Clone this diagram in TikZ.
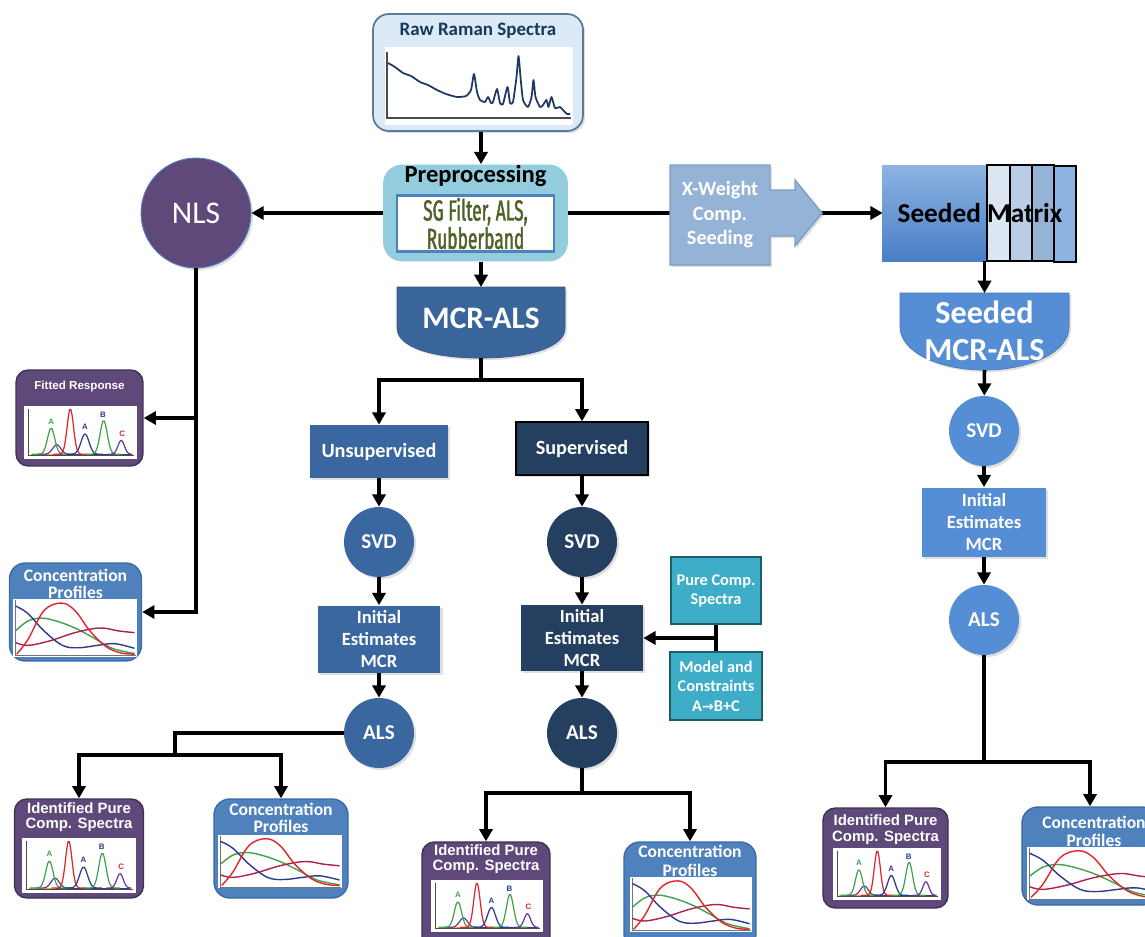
\documentclass[tikz,border=0pt]{standalone}
\usepackage{fontspec}
\setmainfont{Carlito}
\newfontfamily\arialf{Liberation Sans}
\newfontfamily\djv{DejaVu Sans}
\newfontfamily\condf[FakeStretch=0.6,FakeBold=1.5]{Fira Sans}
\usetikzlibrary{arrows.meta,shadows,calc}
\definecolor{rawfill}{HTML}{DCE9F7}
\definecolor{rawborder}{HTML}{5B7A99}
\definecolor{navy}{HTML}{17375E}
\definecolor{rawline}{HTML}{1F3864}
\definecolor{prepfill}{HTML}{93CDDD}
\definecolor{boxblue}{HTML}{4F81BD}
\definecolor{sgtext}{HTML}{4F6228}
\definecolor{purp}{HTML}{5F497A}
\definecolor{purpborder}{HTML}{3F3151}
\definecolor{xwfill}{HTML}{95B3D7}
\definecolor{xwborder}{HTML}{7F9FC9}
\definecolor{smtop}{HTML}{8DB4E2}
\definecolor{smbot}{HTML}{4A7EC6}
\definecolor{stripa}{HTML}{DCE6F2}
\definecolor{stripb}{HTML}{B9CDE5}
\definecolor{stripc}{HTML}{95B3D7}
\definecolor{stripd}{HTML}{8DB3E2}
\definecolor{smcrblue}{HTML}{558ED5}
\definecolor{mcrblue}{HTML}{3A659B}
\definecolor{unsblue}{HTML}{3B67A0}
\definecolor{supnavy}{HTML}{243F60}
\definecolor{tealf}{HTML}{3EADC8}
\definecolor{tealborder}{HTML}{1F5C6B}
\definecolor{concblue}{HTML}{4F81BD}
\definecolor{concborder}{HTML}{3B6AA6}
\definecolor{pgreen}{HTML}{3FA34D}
\definecolor{pred}{HTML}{E0262B}
\definecolor{pblue}{HTML}{2E3A8C}
\definecolor{ppurple}{HTML}{6A3A9A}
\definecolor{porange}{HTML}{F0A030}
\definecolor{cmaroon}{HTML}{B0204A}
\newcommand\fsz[2]{\fontsize{#1}{#2}\selectfont}
\newcommand\pureplot[4]{%
 \fill[white] (#1,#2) rectangle (#3,#4);
 \begin{scope}[shift={(#1,#4)},x={({(#3-#1)*0.02cm},0cm)},y={(0cm,{(#4-#2)*0.02cm})}]
  \draw[black!70, line width=0.5pt] (0.04,0.95) -- (0.04,0.06) -- (0.97,0.06);
  \draw[porange, line width=0.6pt] (0.06,0.09) -- (0.3,0.09);
  \draw[pblue, line width=0.5pt] (0.3,0.09) -- (0.95,0.09);
  \draw[ppurple, line width=0.7pt] plot[domain=0.12:0.45,samples=30,smooth] (\x,{0.09+0.18*exp(-(\x-0.29)*(\x-0.29)/0.0025)});
  \draw[pgreen, line width=0.7pt] plot[domain=0.07:0.41,samples=30,smooth] (\x,{0.09+0.49*exp(-(\x-0.24)*(\x-0.24)/0.002025)});
  \draw[pred, line width=0.7pt] plot[domain=0.26:0.56,samples=30,smooth] (\x,{0.09+0.85*exp(-(\x-0.41)*(\x-0.41)/0.0016)});
  \draw[pblue, line width=0.7pt] plot[domain=0.38:0.70,samples=30,smooth] (\x,{0.09+0.38*exp(-(\x-0.54)*(\x-0.54)/0.0025)});
  \draw[pgreen, line width=0.7pt] plot[domain=0.55:0.86,samples=30,smooth] (\x,{0.09+0.63*exp(-(\x-0.705)*(\x-0.705)/0.002025)});
  \draw[ppurple, line width=0.7pt] plot[domain=0.74:0.96,samples=30,smooth] (\x,{0.09+0.26*exp(-(\x-0.86)*(\x-0.86)/0.0016)});
  \node[font=\arialf\bfseries\fsz{4.5}{5}, text=pgreen, inner sep=0pt] at (0.24,0.71) {A};
  \node[font=\arialf\bfseries\fsz{4.5}{5}, text=pblue, inner sep=0pt] at (0.54,0.6) {A};
  \node[font=\arialf\bfseries\fsz{4.5}{5}, text=pblue, inner sep=0pt] at (0.70,0.84) {B};
  \node[font=\arialf\bfseries\fsz{4.5}{5}, text=pred, inner sep=0pt] at (0.87,0.48) {C};
 \end{scope}}
\newcommand\concplot[4]{%
 \fill[white] (#1,#2) rectangle (#3,#4);
 \begin{scope}[shift={(#1,#4)},x={({(#3-#1)*0.02cm},0cm)},y={(0cm,{(#4-#2)*0.02cm})}]
  \draw[black!55, line width=0.5pt] (0.02,0.98) -- (0.02,0.02) -- (0.99,0.02);
  \draw[pgreen, line width=0.8pt] plot[smooth, tension=0.6] coordinates {(0.02,0.45) (0.12,0.62) (0.23,0.67) (0.35,0.62) (0.5,0.5) (0.65,0.33) (0.8,0.15) (0.98,0.06)};
  \draw[cmaroon, line width=0.8pt] plot[smooth, tension=0.6] coordinates {(0.02,0.25) (0.12,0.2) (0.3,0.28) (0.5,0.42) (0.7,0.5) (0.85,0.45) (0.98,0.42)};
  \draw[pblue, line width=0.8pt] plot[smooth, tension=0.6] coordinates {(0.02,0.88) (0.12,0.75) (0.25,0.45) (0.4,0.2) (0.53,0.16) (0.68,0.2) (0.82,0.23) (0.98,0.15)};
  \draw[pred, line width=0.8pt] plot[smooth, tension=0.6] coordinates {(0.03,0.05) (0.12,0.3) (0.25,0.8) (0.39,0.93) (0.5,0.8) (0.62,0.45) (0.75,0.18) (0.87,0.07) (0.98,0.05)};
 \end{scope}}
\begin{document}
\begin{tikzpicture}[x=0.02cm, y=-0.02cm,
  arr/.style={line width=2pt, -{Triangle[length=7pt,width=7.5pt]}},
  ln/.style={line width=2pt},
  shd/.style={drop shadow={shadow xshift=1.2pt,shadow yshift=-1.2pt,opacity=0.25}},
  rbox/.style={rectangle, text=white, align=center, inner sep=0pt},
  circ/.style={circle, text=white, minimum size=1.4cm, inner sep=0pt, font=\bfseries\fsz{12}{14}},
  ttl/.style={text=white, align=center, inner sep=0pt},
  ibox/.style={rounded corners=7pt, fill=purp, draw=purpborder, line width=0.8pt, inner sep=0pt},
  cbox/.style={rounded corners=9pt, fill=concblue, draw=concborder, line width=0.8pt, inner sep=0pt}]
\useasboundingbox (0,0) rectangle (1145,936);
\fill[white] (0,0) rectangle (1145,936);
\clip (0,0) rectangle (1145,936);

% Raw Raman spectra
\node[draw=rawborder, fill=rawfill, rounded corners=9pt, line width=1pt, minimum width=4.2cm, minimum height=2.34cm, inner sep=0pt, shd] (raw) at (478,72.5) {};
\node[font=\bfseries\fsz{10.8}{12}, text=navy, inner sep=0pt] (rawt) at (478,31) {Raw Raman Spectra};
\fill[white] (385,47) rectangle (573,125);
\draw[black!70, line width=0.6pt] (387,52) -- (387,118) -- (571,118);
\draw[rawline, line width=1pt, line join=round] plot[smooth, tension=0.35] coordinates {(388,63) (395,67) (403,73) (411,76) (420,82) (428,85) (437,90) (446,94) (457,97) (466,96) (471,90) (474,74) (477,92) (480,100) (485,102) (488,97) (491,103) (493,102) (497,89) (500,103) (503,104) (507.5,87) (510,103) (513,102) (516.5,77) (518.5,56) (520.5,77) (523,100) (528,107) (531.5,97) (533.5,80) (535.5,97) (540,107) (543,105) (546.5,100) (548.5,107) (551.5,97) (555,108) (560,107) (563,110) (567,114) (570,114)};

% Preprocessing
\node[fill=prepfill, rounded corners=11pt, minimum width=3.7cm, minimum height=1.94cm, inner sep=0pt] (prep) at (475.5,213) {};
\node[font=\bfseries\fsz{14}{15}, inner sep=0pt] (prept) at (475.5,176) {Preprocessing};
\node[draw=boxblue, fill=white, line width=1.5pt, minimum width=3.14cm, minimum height=1.12cm, inner sep=0pt, align=center, font=\condf\fsz{16.5}{13.8}, text=sgtext] (sg) at (475.5,223.5) {SG Filter, ALS,\\Rubberband};

% NLS
\node[circle, fill=purp, draw=boxblue, line width=0.5pt, minimum size=2.2cm, inner sep=0pt, text=white, font=\fsz{18}{20}, shd] (nls) at (196,213) {NLS};

% Seeded matrix
\shade[top color=smtop, bottom color=smbot] (882,165) rectangle (988,261);
\filldraw[fill=stripa, draw=black, line width=0.8pt] (987,165) rectangle (1010,261);
\filldraw[fill=stripb, draw=black, line width=0.8pt] (1010,165) rectangle (1032,261);
\filldraw[fill=stripc, draw=black, line width=0.8pt] (1032,165) rectangle (1054,261);
\filldraw[fill=stripd, draw=black, line width=0.8pt] (1054,166) rectangle (1076,262);
\node[font=\bfseries\fsz{15.5}{17}, minimum width=3.88cm, minimum height=1.92cm, inner sep=0pt] (sm) at (980,213) {Seeded Matrix};

% MCR-ALS
\filldraw[fill=mcrblue, draw=mcrblue!85!black, line width=0.4pt, shd] (397,287) -- (565,287) -- (565,328) .. controls (565,347) and (530,358) .. (481,358) .. controls (432,358) and (397,347) .. (397,328) -- cycle;
\node[text=white, font=\bfseries\fsz{17.8}{20}, inner sep=0pt] (mcr) at (481,318) {MCR-ALS};
\coordinate (mcrt) at (481,287);
\coordinate (mcrb) at (481,358);

% Seeded MCR-ALS
\filldraw[fill=smcrblue, draw=smcrblue!85!black, line width=0.4pt, shd] (900,293) -- (1069,293) -- (1069,327) .. controls (1069,352) and (1030,370) .. (984.5,370) .. controls (939,370) and (900,352) .. (900,327) -- cycle;
\node[text=white, font=\bfseries\fsz{18.3}{21}, align=center, inner sep=0pt] (smcr) at (984.5,331) {Seeded\\MCR-ALS};
\coordinate (smcrt) at (984.5,293);
\coordinate (smcrb) at (984.5,370);

% Unsupervised column
\node[rbox, fill=unsblue, minimum width=2.76cm, minimum height=1.06cm, font=\bfseries\fsz{11.5}{13}, shd] (unsup) at (379,451.5) {Unsupervised};
\node[circ, fill=unsblue, shd] (svd1) at (379,542) {SVD};
\node[rbox, fill=unsblue, minimum width=2.46cm, minimum height=1.34cm, font=\bfseries\fsz{10.6}{12.7}, shd] (ie1) at (379,639) {Initial\\Estimates\\MCR};
\node[circ, fill=unsblue, shd] (als1) at (379,733) {ALS};

% Supervised column
\node[rbox, fill=supnavy, draw=black, line width=0.8pt, minimum width=2.64cm, minimum height=1.06cm, font=\bfseries\fsz{11.5}{13}, shd] (sup) at (582,448.5) {Supervised};
\node[circ, fill=supnavy, shd] (svd2) at (582,542) {SVD};
\node[rbox, fill=supnavy, minimum width=2.44cm, minimum height=1.32cm, font=\bfseries\fsz{10.6}{12.7}, shd] (ie2) at (582,638) {Initial\\Estimates\\MCR};
\node[circ, fill=supnavy, shd] (als2) at (582,733) {ALS};

% Pure comp / model
\node[rbox, fill=tealf, draw=tealborder, line width=1.2pt, minimum width=1.8cm, minimum height=1.34cm, font=\bfseries\fsz{9.3}{10.8}] (pcs) at (716,590.5) {Pure Comp.\\Spectra};
\node[rbox, fill=tealf, draw=tealborder, line width=1.2pt, minimum width=1.84cm, minimum height=1.36cm, font=\bfseries\fsz{9.3}{11}] (mc) at (716,686) {Model and\\Constraints\\A{\djv\bfseries\fsz{8}{11}→}B+C};
\coordinate (pmj) at (716,638);

% Seeded column
\node[circ, fill=smcrblue, shd] (svd3) at (984,431) {SVD};
\node[rbox, fill=smcrblue, minimum width=2.48cm, minimum height=1.38cm, font=\bfseries\fsz{10.6}{12.7}, shd] (ie3) at (984,522) {Initial\\Estimates\\MCR};
\node[circ, fill=smcrblue, shd] (als3) at (984,620) {ALS};

% NLS outputs
\node[ibox, minimum width=2.54cm, minimum height=1.92cm] (fit) at (79.5,418) {};
\node[ttl, font=\arialf\bfseries\fsz{6.6}{7}] (fitt) at (79.5,386) {Fitted Response};
\pureplot{24}{406}{137}{459}
\node[cbox, minimum width=2.64cm, minimum height=1.96cm] (conc0) at (75.5,612) {};
\node[ttl, font=\bfseries\fsz{10}{9.6}] (conc0t) at (75.5,584) {Concentration\\Profiles};
\concplot{13}{599}{137}{657}

% Unsupervised outputs
\node[ibox, minimum width=2.58cm, minimum height=1.98cm] (pure1) at (79,848.5) {};
\node[ttl, font=\arialf\bfseries\fsz{8.5}{8.9}] (pure1t) at (79,817) {Identified Pure\\Comp. Spectra};
\pureplot{22}{838}{136}{893}
\node[cbox, minimum width=2.68cm, minimum height=1.98cm] (conc1) at (281,848.5) {};
\node[ttl, font=\bfseries\fsz{10}{9.8}] (conc1t) at (281,818) {Concentration\\Profiles};
\concplot{218}{835}{342}{888}

% Supervised outputs
\node[ibox, minimum width=2.56cm, minimum height=2.16cm] (pure2) at (486,896) {};
\node[ttl, font=\arialf\bfseries\fsz{8.5}{8.9}] (pure2t) at (486,859) {Identified Pure\\Comp. Spectra};
\pureplot{431}{880}{543}{932}
\node[cbox, minimum width=2.64cm, minimum height=2.16cm] (conc2) at (690,896) {};
\node[ttl, font=\bfseries\fsz{10}{10.5}] (conc2t) at (690,861) {Concentration\\Profiles};
\concplot{630}{877}{752}{932}

% Seeded outputs
\node[ibox, minimum width=2.5cm, minimum height=2.0cm] (pure3) at (885.5,858) {};
\node[ttl, font=\arialf\bfseries\fsz{8.5}{8.9}] (pure3t) at (885.5,829.5) {Identified Pure\\Comp. Spectra};
\pureplot{833}{848}{941}{900}
\node[cbox, minimum width=2.72cm, minimum height=1.96cm] (conc3) at (1090,856) {};
\node[ttl, font=\bfseries\fsz{10}{10.3}] (conc3t) at (1094,831) {Concentration\\Profiles};
\concplot{1027}{847}{1160}{900}

% Connectors
\draw[arr] (raw.south -| mcrt) -- (prep.north -| mcrt);
\draw[arr] (prep.west) -- (nls.east);
\draw[arr] (prep.south -| mcrt) -- (mcrt);
\draw[arr] (prep.east) -- (sm.west);

% X-Weight arrow box (over the line)
\filldraw[fill=xwfill, draw=xwborder, line width=0.8pt, shd] (670,165) -- (770,165) -- (770,190) -- (795,190) -- (795,180) -- (822,213) -- (795,246) -- (795,236) -- (770,236) -- (770,265) -- (670,265) -- cycle;
\node[text=white, font=\bfseries\fsz{11.5}{14}, align=center, inner sep=0pt] (xw) at (720,215) {X-Weight\\Comp.\\Seeding};

\draw[arr] (sm.south -| smcrt) -- (smcrt);
\coordinate (mj) at (481,380);
\draw[ln] (mcrb) -- (mj);
\draw[arr] (mj) -| (unsup.north);
\draw[arr] (mj) -| (sup.north);
\draw[arr] (unsup) -- (svd1);
\draw[arr] (svd1) -- (ie1);
\draw[arr] (ie1) -- (als1);
\draw[arr] (sup) -- (svd2);
\draw[arr] (svd2) -- (ie2);
\draw[arr] (ie2) -- (als2);
\draw[ln] (pcs) -- (mc);
\draw[arr] (pmj) -- (ie2);
\draw[arr] (smcrb) -- (svd3);
\draw[arr] (svd3) -- (ie3);
\draw[arr] (ie3) -- (als3);

% NLS branches
\coordinate (n1) at (196,418);
\draw[arr] (nls) |- (conc0);
\draw[arr] (n1) -- (fit);

% Unsupervised branch
\coordinate (lj) at (175,755);
\draw[ln] (als1.west) -| (lj);
\draw[arr] (lj) -| (pure1.north);
\draw[arr] (lj) -| (conc1.north);

% Supervised branch
\coordinate (mj2) at (582,793);
\draw[ln] (als2) -- (mj2);
\draw[arr] (mj2) -| (pure2.north);
\draw[arr] (mj2) -| (conc2.north);

% Seeded branch
\coordinate (rj) at (984,762);
\draw[ln] (als3) -- (rj);
\draw[arr] (rj) -| (pure3.north);
\draw[arr] (rj) -| (conc3.north);
\end{tikzpicture}
\end{document}
